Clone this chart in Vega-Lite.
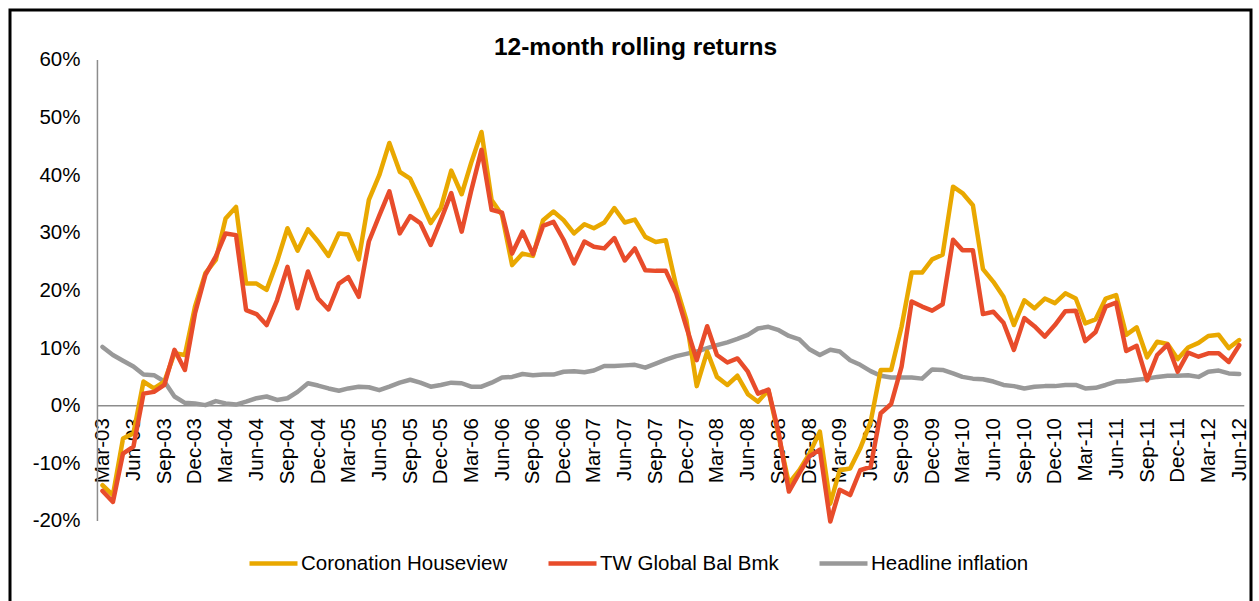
{
  "$schema": "https://vega.github.io/schema/vega-lite/v6.json",
  "width": 1241,
  "height": 600,
  "autosize": {"type": "none"},
  "padding": {"left": 10, "top": 10, "right": 10, "bottom": 0},
  "background": "white",
  "config": {"view": {"stroke": "#000000", "strokeWidth": 3}, "font": "Liberation Sans"},
  "title": {"text": "12-month rolling returns", "font": "Liberation Sans", "fontSize": 24.5, "fontWeight": "bold", "color": "#000000", "anchor": "middle", "frame": "group", "offset": -69, "baseline": "alphabetic", "dx": 5},
  "layer": [
    {
      "data": {"values": [{}]},
      "mark": {"type": "rule", "color": "#8c8c8c", "strokeWidth": 1.5},
      "encoding": {
        "x": {"datum": {"year": 2003, "month": 2, "date": 14, "utc": true}, "type": "temporal",
          "scale": {"type": "utc", "domain": [{"year": 2002, "month": 5, "date": 30, "utc": true}, {"year": 2012, "month": 7, "date": 6, "utc": true}]},
          "axis": {
            "title": null, "domain": false, "ticks": false, "tickSize": 0, "grid": false, "tickCount": 200,
            "offset": -204.3, "labelPadding": 12, "labelAngle": 270, "labelAlign": "right", "labelBaseline": "middle",
            "labelFont": "Liberation Sans", "labelFontSize": 20.5, "labelColor": "#000000",
            "labelOverlap": false, "labelBound": false, "labelFlush": false,
            "labelExpr": "utcFormat(datum.value, '%b-%y')",
            "values": [1046476800000, 1054425600000, 1062374400000, 1070236800000,
              1078099200000, 1086048000000, 1093996800000, 1101859200000,
              1109635200000, 1117584000000, 1125532800000, 1133395200000,
              1141171200000, 1149120000000, 1157068800000, 1164931200000,
              1172707200000, 1180656000000, 1188604800000, 1196467200000,
              1204329600000, 1212278400000, 1220227200000, 1228089600000,
              1235865600000, 1243814400000, 1251763200000, 1259625600000,
              1267401600000, 1275350400000, 1283299200000, 1291161600000,
              1298937600000, 1306886400000, 1314835200000, 1322697600000,
              1330560000000, 1338508800000]
          }
        },
        "y": {"datum": -20, "type": "quantitative", "scale": {"domain": [-35.45, 68.67], "nice": false, "zero": false}},
        "y2": {"datum": 60}
      }
    },
    {
      "data": {"values": [{}]},
      "mark": {"type": "rule", "color": "#8c8c8c", "strokeWidth": 1.5},
      "encoding": {
        "x": {"datum": {"year": 2003, "month": 2, "date": 14, "utc": true}, "type": "temporal"},
        "x2": {"datum": {"year": 2012, "month": 6, "date": 16, "utc": true}},
        "y": {"datum": 0, "type": "quantitative"}
      }
    },
    {
      "data": {"values": [
        {"date": "2003-03-01", "Coronation Houseview": -13.8, "TW Global Bal Bmk": -14.8, "Headline inflation": 10.2},
        {"date": "2003-04-01", "Coronation Houseview": -15.5, "TW Global Bal Bmk": -16.7, "Headline inflation": 8.8},
        {"date": "2003-05-01", "Coronation Houseview": -5.7, "TW Global Bal Bmk": -8.3, "Headline inflation": 7.8},
        {"date": "2003-06-01", "Coronation Houseview": -4.8, "TW Global Bal Bmk": -7.1, "Headline inflation": 6.8},
        {"date": "2003-07-01", "Coronation Houseview": 4.2, "TW Global Bal Bmk": 2.1, "Headline inflation": 5.4},
        {"date": "2003-08-01", "Coronation Houseview": 3.0, "TW Global Bal Bmk": 2.4, "Headline inflation": 5.3},
        {"date": "2003-09-01", "Coronation Houseview": 4.2, "TW Global Bal Bmk": 3.6, "Headline inflation": 4.2},
        {"date": "2003-10-01", "Coronation Houseview": 9.1, "TW Global Bal Bmk": 9.7, "Headline inflation": 1.6},
        {"date": "2003-11-01", "Coronation Houseview": 8.8, "TW Global Bal Bmk": 6.2, "Headline inflation": 0.5},
        {"date": "2003-12-01", "Coronation Houseview": 17.2, "TW Global Bal Bmk": 16.0, "Headline inflation": 0.4},
        {"date": "2004-01-01", "Coronation Houseview": 23.0, "TW Global Bal Bmk": 22.7, "Headline inflation": 0.1},
        {"date": "2004-02-01", "Coronation Houseview": 25.3, "TW Global Bal Bmk": 25.9, "Headline inflation": 0.8},
        {"date": "2004-03-01", "Coronation Houseview": 32.5, "TW Global Bal Bmk": 29.9, "Headline inflation": 0.4},
        {"date": "2004-04-01", "Coronation Houseview": 34.5, "TW Global Bal Bmk": 29.6, "Headline inflation": 0.2},
        {"date": "2004-05-01", "Coronation Houseview": 21.2, "TW Global Bal Bmk": 16.6, "Headline inflation": 0.7},
        {"date": "2004-06-01", "Coronation Houseview": 21.2, "TW Global Bal Bmk": 15.9, "Headline inflation": 1.3},
        {"date": "2004-07-01", "Coronation Houseview": 20.1, "TW Global Bal Bmk": 14.0, "Headline inflation": 1.6},
        {"date": "2004-08-01", "Coronation Houseview": 25.0, "TW Global Bal Bmk": 18.3, "Headline inflation": 1.0},
        {"date": "2004-09-01", "Coronation Houseview": 30.8, "TW Global Bal Bmk": 24.1, "Headline inflation": 1.3},
        {"date": "2004-10-01", "Coronation Houseview": 26.9, "TW Global Bal Bmk": 16.9, "Headline inflation": 2.4},
        {"date": "2004-11-01", "Coronation Houseview": 30.6, "TW Global Bal Bmk": 23.3, "Headline inflation": 3.9},
        {"date": "2004-12-01", "Coronation Houseview": 28.5, "TW Global Bal Bmk": 18.6, "Headline inflation": 3.5},
        {"date": "2005-01-01", "Coronation Houseview": 26.0, "TW Global Bal Bmk": 16.7, "Headline inflation": 3.0},
        {"date": "2005-02-01", "Coronation Houseview": 29.9, "TW Global Bal Bmk": 21.2, "Headline inflation": 2.6},
        {"date": "2005-03-01", "Coronation Houseview": 29.7, "TW Global Bal Bmk": 22.3, "Headline inflation": 3.0},
        {"date": "2005-04-01", "Coronation Houseview": 25.4, "TW Global Bal Bmk": 18.9, "Headline inflation": 3.3},
        {"date": "2005-05-01", "Coronation Houseview": 35.7, "TW Global Bal Bmk": 28.5, "Headline inflation": 3.2},
        {"date": "2005-06-01", "Coronation Houseview": 40.0, "TW Global Bal Bmk": 33.0, "Headline inflation": 2.7},
        {"date": "2005-07-01", "Coronation Houseview": 45.6, "TW Global Bal Bmk": 37.2, "Headline inflation": 3.3},
        {"date": "2005-08-01", "Coronation Houseview": 40.6, "TW Global Bal Bmk": 29.9, "Headline inflation": 4.0},
        {"date": "2005-09-01", "Coronation Houseview": 39.4, "TW Global Bal Bmk": 32.9, "Headline inflation": 4.5},
        {"date": "2005-10-01", "Coronation Houseview": 35.7, "TW Global Bal Bmk": 31.7, "Headline inflation": 4.0},
        {"date": "2005-11-01", "Coronation Houseview": 31.7, "TW Global Bal Bmk": 27.9, "Headline inflation": 3.3},
        {"date": "2005-12-01", "Coronation Houseview": 34.3, "TW Global Bal Bmk": 32.2, "Headline inflation": 3.6},
        {"date": "2006-01-01", "Coronation Houseview": 40.8, "TW Global Bal Bmk": 36.9, "Headline inflation": 4.0},
        {"date": "2006-02-01", "Coronation Houseview": 36.7, "TW Global Bal Bmk": 30.2, "Headline inflation": 3.9},
        {"date": "2006-03-01", "Coronation Houseview": 42.1, "TW Global Bal Bmk": 37.2, "Headline inflation": 3.3},
        {"date": "2006-04-01", "Coronation Houseview": 47.5, "TW Global Bal Bmk": 44.4, "Headline inflation": 3.3},
        {"date": "2006-05-01", "Coronation Houseview": 35.7, "TW Global Bal Bmk": 34.0, "Headline inflation": 4.0},
        {"date": "2006-06-01", "Coronation Houseview": 33.1, "TW Global Bal Bmk": 33.5, "Headline inflation": 4.9},
        {"date": "2006-07-01", "Coronation Houseview": 24.4, "TW Global Bal Bmk": 26.4, "Headline inflation": 5.0},
        {"date": "2006-08-01", "Coronation Houseview": 26.4, "TW Global Bal Bmk": 30.2, "Headline inflation": 5.5},
        {"date": "2006-09-01", "Coronation Houseview": 26.0, "TW Global Bal Bmk": 26.3, "Headline inflation": 5.3},
        {"date": "2006-10-01", "Coronation Houseview": 32.2, "TW Global Bal Bmk": 31.2, "Headline inflation": 5.4},
        {"date": "2006-11-01", "Coronation Houseview": 33.7, "TW Global Bal Bmk": 31.9, "Headline inflation": 5.4},
        {"date": "2006-12-01", "Coronation Houseview": 32.2, "TW Global Bal Bmk": 28.8, "Headline inflation": 5.9},
        {"date": "2007-01-01", "Coronation Houseview": 29.9, "TW Global Bal Bmk": 24.7, "Headline inflation": 6.0},
        {"date": "2007-02-01", "Coronation Houseview": 31.5, "TW Global Bal Bmk": 28.5, "Headline inflation": 5.8},
        {"date": "2007-03-01", "Coronation Houseview": 30.8, "TW Global Bal Bmk": 27.6, "Headline inflation": 6.1},
        {"date": "2007-04-01", "Coronation Houseview": 31.8, "TW Global Bal Bmk": 27.3, "Headline inflation": 6.9},
        {"date": "2007-05-01", "Coronation Houseview": 34.3, "TW Global Bal Bmk": 29.1, "Headline inflation": 6.9},
        {"date": "2007-06-01", "Coronation Houseview": 31.8, "TW Global Bal Bmk": 25.2, "Headline inflation": 7.0},
        {"date": "2007-07-01", "Coronation Houseview": 32.3, "TW Global Bal Bmk": 27.3, "Headline inflation": 7.1},
        {"date": "2007-08-01", "Coronation Houseview": 29.3, "TW Global Bal Bmk": 23.5, "Headline inflation": 6.6},
        {"date": "2007-09-01", "Coronation Houseview": 28.4, "TW Global Bal Bmk": 23.4, "Headline inflation": 7.3},
        {"date": "2007-10-01", "Coronation Houseview": 28.7, "TW Global Bal Bmk": 23.4, "Headline inflation": 8.0},
        {"date": "2007-11-01", "Coronation Houseview": 20.7, "TW Global Bal Bmk": 19.5, "Headline inflation": 8.6},
        {"date": "2007-12-01", "Coronation Houseview": 14.9, "TW Global Bal Bmk": 13.7, "Headline inflation": 9.0},
        {"date": "2008-01-01", "Coronation Houseview": 3.4, "TW Global Bal Bmk": 7.9, "Headline inflation": 9.4},
        {"date": "2008-02-01", "Coronation Houseview": 9.4, "TW Global Bal Bmk": 13.8, "Headline inflation": 10.0},
        {"date": "2008-03-01", "Coronation Houseview": 5.0, "TW Global Bal Bmk": 8.8, "Headline inflation": 10.5},
        {"date": "2008-04-01", "Coronation Houseview": 3.6, "TW Global Bal Bmk": 7.5, "Headline inflation": 11.0},
        {"date": "2008-05-01", "Coronation Houseview": 5.2, "TW Global Bal Bmk": 8.2, "Headline inflation": 11.6},
        {"date": "2008-06-01", "Coronation Houseview": 2.0, "TW Global Bal Bmk": 5.9, "Headline inflation": 12.3},
        {"date": "2008-07-01", "Coronation Houseview": 0.7, "TW Global Bal Bmk": 2.1, "Headline inflation": 13.4},
        {"date": "2008-08-01", "Coronation Houseview": 2.7, "TW Global Bal Bmk": 2.8, "Headline inflation": 13.7},
        {"date": "2008-09-01", "Coronation Houseview": -5.4, "TW Global Bal Bmk": -4.8, "Headline inflation": 13.1},
        {"date": "2008-10-01", "Coronation Houseview": -13.5, "TW Global Bal Bmk": -14.9, "Headline inflation": 12.1},
        {"date": "2008-11-01", "Coronation Houseview": -11.2, "TW Global Bal Bmk": -11.7, "Headline inflation": 11.5},
        {"date": "2008-12-01", "Coronation Houseview": -8.3, "TW Global Bal Bmk": -8.8, "Headline inflation": 9.8},
        {"date": "2009-01-01", "Coronation Houseview": -4.5, "TW Global Bal Bmk": -7.6, "Headline inflation": 8.8},
        {"date": "2009-02-01", "Coronation Houseview": -17.0, "TW Global Bal Bmk": -20.1, "Headline inflation": 9.7},
        {"date": "2009-03-01", "Coronation Houseview": -11.2, "TW Global Bal Bmk": -14.6, "Headline inflation": 9.4},
        {"date": "2009-04-01", "Coronation Houseview": -10.9, "TW Global Bal Bmk": -15.5, "Headline inflation": 7.9},
        {"date": "2009-05-01", "Coronation Houseview": -7.4, "TW Global Bal Bmk": -11.2, "Headline inflation": 7.1},
        {"date": "2009-06-01", "Coronation Houseview": -2.8, "TW Global Bal Bmk": -10.6, "Headline inflation": 6.0},
        {"date": "2009-07-01", "Coronation Houseview": 6.2, "TW Global Bal Bmk": -1.3, "Headline inflation": 5.2},
        {"date": "2009-08-01", "Coronation Houseview": 6.2, "TW Global Bal Bmk": 0.3, "Headline inflation": 4.9},
        {"date": "2009-09-01", "Coronation Houseview": 13.7, "TW Global Bal Bmk": 6.8, "Headline inflation": 4.9},
        {"date": "2009-10-01", "Coronation Houseview": 23.1, "TW Global Bal Bmk": 18.1, "Headline inflation": 4.9},
        {"date": "2009-11-01", "Coronation Houseview": 23.1, "TW Global Bal Bmk": 17.2, "Headline inflation": 4.7},
        {"date": "2009-12-01", "Coronation Houseview": 25.4, "TW Global Bal Bmk": 16.5, "Headline inflation": 6.3},
        {"date": "2010-01-01", "Coronation Houseview": 26.2, "TW Global Bal Bmk": 17.6, "Headline inflation": 6.2},
        {"date": "2010-02-01", "Coronation Houseview": 38.0, "TW Global Bal Bmk": 28.8, "Headline inflation": 5.6},
        {"date": "2010-03-01", "Coronation Houseview": 36.9, "TW Global Bal Bmk": 27.0, "Headline inflation": 5.0},
        {"date": "2010-04-01", "Coronation Houseview": 34.8, "TW Global Bal Bmk": 27.0, "Headline inflation": 4.7},
        {"date": "2010-05-01", "Coronation Houseview": 23.7, "TW Global Bal Bmk": 15.9, "Headline inflation": 4.6},
        {"date": "2010-06-01", "Coronation Houseview": 21.5, "TW Global Bal Bmk": 16.3, "Headline inflation": 4.2},
        {"date": "2010-07-01", "Coronation Houseview": 18.9, "TW Global Bal Bmk": 14.4, "Headline inflation": 3.6},
        {"date": "2010-08-01", "Coronation Houseview": 14.0, "TW Global Bal Bmk": 9.7, "Headline inflation": 3.4},
        {"date": "2010-09-01", "Coronation Houseview": 18.3, "TW Global Bal Bmk": 15.2, "Headline inflation": 3.0},
        {"date": "2010-10-01", "Coronation Houseview": 16.9, "TW Global Bal Bmk": 13.8, "Headline inflation": 3.3},
        {"date": "2010-11-01", "Coronation Houseview": 18.6, "TW Global Bal Bmk": 12.0, "Headline inflation": 3.4},
        {"date": "2010-12-01", "Coronation Houseview": 17.8, "TW Global Bal Bmk": 14.0, "Headline inflation": 3.4},
        {"date": "2011-01-01", "Coronation Houseview": 19.5, "TW Global Bal Bmk": 16.4, "Headline inflation": 3.6},
        {"date": "2011-02-01", "Coronation Houseview": 18.6, "TW Global Bal Bmk": 16.5, "Headline inflation": 3.6},
        {"date": "2011-03-01", "Coronation Houseview": 14.3, "TW Global Bal Bmk": 11.2, "Headline inflation": 3.0},
        {"date": "2011-04-01", "Coronation Houseview": 15.0, "TW Global Bal Bmk": 12.8, "Headline inflation": 3.1},
        {"date": "2011-05-01", "Coronation Houseview": 18.6, "TW Global Bal Bmk": 17.2, "Headline inflation": 3.6},
        {"date": "2011-06-01", "Coronation Houseview": 19.2, "TW Global Bal Bmk": 17.9, "Headline inflation": 4.2},
        {"date": "2011-07-01", "Coronation Houseview": 12.3, "TW Global Bal Bmk": 9.5, "Headline inflation": 4.3},
        {"date": "2011-08-01", "Coronation Houseview": 13.6, "TW Global Bal Bmk": 10.4, "Headline inflation": 4.5},
        {"date": "2011-09-01", "Coronation Houseview": 8.4, "TW Global Bal Bmk": 4.4, "Headline inflation": 4.7},
        {"date": "2011-10-01", "Coronation Houseview": 11.1, "TW Global Bal Bmk": 8.8, "Headline inflation": 5.0},
        {"date": "2011-11-01", "Coronation Houseview": 10.7, "TW Global Bal Bmk": 10.6, "Headline inflation": 5.2},
        {"date": "2011-12-01", "Coronation Houseview": 8.1, "TW Global Bal Bmk": 5.9, "Headline inflation": 5.2},
        {"date": "2012-01-01", "Coronation Houseview": 10.1, "TW Global Bal Bmk": 9.2, "Headline inflation": 5.3},
        {"date": "2012-02-01", "Coronation Houseview": 10.9, "TW Global Bal Bmk": 8.5, "Headline inflation": 5.0},
        {"date": "2012-03-01", "Coronation Houseview": 12.1, "TW Global Bal Bmk": 9.1, "Headline inflation": 5.9},
        {"date": "2012-04-01", "Coronation Houseview": 12.3, "TW Global Bal Bmk": 9.1, "Headline inflation": 6.1},
        {"date": "2012-05-01", "Coronation Houseview": 10.0, "TW Global Bal Bmk": 7.6, "Headline inflation": 5.6},
        {"date": "2012-06-01", "Coronation Houseview": 11.4, "TW Global Bal Bmk": 10.5, "Headline inflation": 5.5}
      ]},
      "transform": [{"fold": ["Headline inflation", "Coronation Houseview", "TW Global Bal Bmk"], "as": ["series", "value"]}],
      "mark": {"type": "line", "strokeWidth": 4.5, "strokeJoin": "round", "strokeCap": "round"},
      "encoding": {
        "x": {"field": "date", "type": "temporal"},
        "y": {
          "field": "value", "type": "quantitative",
          "axis": {
            "title": null, "domain": false, "ticks": false, "tickSize": 0, "grid": false,
            "offset": -87, "labelPadding": 17,
            "values": [-20, -10, 0, 10, 20, 30, 40, 50, 60],
            "labelExpr": "datum.value + '%'",
            "labelFont": "Liberation Sans", "labelFontSize": 20.5, "labelColor": "#000000",
            "labelOverlap": false, "labelBound": false, "labelFlush": false
          }
        },
        "color": {
          "field": "series", "type": "nominal",
          "scale": {"domain": ["Coronation Houseview", "TW Global Bal Bmk", "Headline inflation"], "range": ["#E9A800", "#E84C2B", "#999999"]},
          "legend": {
            "title": null, "orient": "none", "legendX": 237, "legendY": 527, "direction": "horizontal",
            "symbolType": "stroke", "symbolSize": 2304, "symbolStrokeWidth": 4.5,
            "labelFont": "Liberation Sans", "labelFontSize": 20.5, "labelColor": "#000000", "labelOffset": 1,
            "columnPadding": 31, "labelLimit": 400
          }
        }
      }
    }
  ]
}
